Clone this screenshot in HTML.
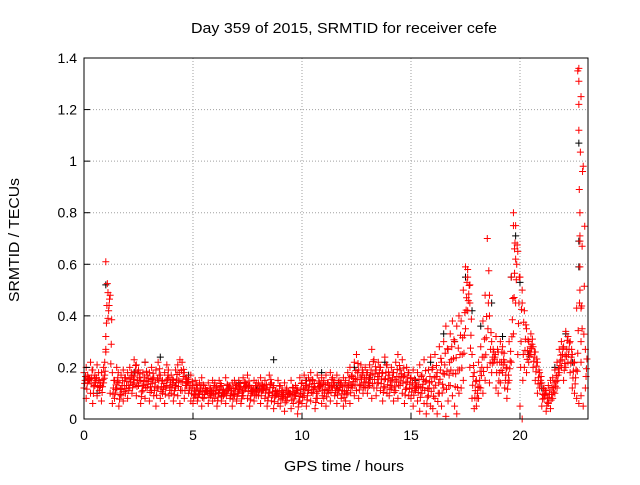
<!DOCTYPE html>
<html><head><meta charset="utf-8"><style>
html,body{margin:0;padding:0;background:#fff;}
svg text{font-family:"Liberation Sans",sans-serif;font-size:14px;fill:#000;}
svg text.big{font-size:15px;}
</style></head><body>
<svg id="chart" width="640" height="480" viewBox="0 0 640 480" xmlns="http://www.w3.org/2000/svg">
<rect width="640" height="480" fill="#fff"/>
<g id="grid"></g>
<g id="marks"></g>
<rect x="84" y="58" width="504" height="361" fill="none" stroke="#000" stroke-width="1"/>
<g id="ticks"></g>
<text class="big" x="191" y="33" textLength="306" lengthAdjust="spacingAndGlyphs">Day 359 of 2015, SRMTID for receiver cefe</text>
<text class="big" x="284" y="471" textLength="120" lengthAdjust="spacingAndGlyphs">GPS time / hours</text>
<text class="big" x="0" y="0" textLength="124" lengthAdjust="spacingAndGlyphs" transform="translate(19 302) rotate(-90)">SRMTID / TECUs</text>
</svg>
<script>
const xTicks=[0,5,10,15,20];
const yTicks=[0,0.2,0.4,0.6,0.8,1,1.2,1.4];
const yTickLabels=["0","0.2","0.4","0.6","0.8","1","1.2","1.4"];
const hours=[0.0,0.1,0.2,0.3,0.4,0.5,0.6,0.7,0.8,0.9,1.0,1.1,1.2,1.3,1.4,1.5,1.6,1.7,1.8,1.9,2.0,2.1,2.2,2.3,2.4,2.5,2.6,2.7,2.8,2.9,3.0,3.1,3.2,3.3,3.4,3.5,3.6,3.7,3.8,3.9,4.0,4.1,4.2,4.3,4.4,4.5,4.6,4.7,4.8,4.9,5.0,5.1,5.2,5.3,5.4,5.5,5.6,5.7,5.8,5.9,6.0,6.1,6.2,6.3,6.4,6.5,6.6,6.7,6.8,6.9,7.0,7.1,7.2,7.3,7.4,7.5,7.6,7.7,7.8,7.9,8.0,8.1,8.2,8.3,8.4,8.5,8.6,8.7,8.8,8.9,9.0,9.1,9.2,9.3,9.4,9.5,9.6,9.7,9.8,9.9,10.0,10.1,10.2,10.3,10.4,10.5,10.6,10.7,10.8,10.9,11.0,11.1,11.2,11.3,11.4,11.5,11.6,11.7,11.8,11.9,12.0,12.1,12.2,12.3,12.4,12.5,12.6,12.7,12.8,12.9,13.0,13.1,13.2,13.3,13.4,13.5,13.6,13.7,13.8,13.9,14.0,14.1,14.2,14.3,14.4,14.5,14.6,14.7,14.8,14.9,15.0,15.1,15.2,15.3,15.4,15.5,15.6,15.7,15.8,15.9,16.0,16.1,16.2,16.3,16.4,16.5,16.6,16.7,16.8,16.9,17.0,17.1,17.2,17.3,17.4,17.5,17.6,17.7,17.8,17.9,18.0,18.1,18.2,18.3,18.4,18.5,18.6,18.7,18.8,18.9,19.0,19.1,19.2,19.3,19.4,19.5,19.6,19.7,19.8,19.9,20.0,20.1,20.2,20.3,20.4,20.5,20.6,20.7,20.8,20.9,21.0,21.1,21.2,21.3,21.4,21.5,21.6,21.7,21.8,21.9,22.0,22.1,22.2,22.3,22.4,22.5,22.6,22.7,22.8,22.9,23.0];
const redLow=[.12,.08,.15,.10,.06,.13,.09,.11,.07,.14,
.27,.39,.10,.06,.08,.12,.05,.09,.07,.10,
.08,.12,.10,.14,.09,.13,.06,.11,.08,.12,
.07,.11,.09,.05,.12,.08,.10,.06,.13,.09,
.10,.07,.12,.09,.06,.11,.08,.13,.10,.07,
.06,.09,.07,.10,.05,.08,.11,.06,.09,.07,
.08,.05,.10,.07,.09,.06,.11,.08,.05,.09,
.07,.10,.06,.09,.12,.08,.05,.10,.07,.09,
.09,.06,.11,.08,.05,.10,.07,.04,.09,.06,
.05,.08,.03,.07,.10,.04,.06,.09,.02,.07,
.06,.09,.05,.11,.07,.10,.04,.08,.12,.06,
.08,.05,.10,.07,.12,.09,.06,.11,.08,.05,
.07,.10,.06,.12,.09,.11,.08,.13,.10,.12,
.10,.13,.08,.12,.09,.14,.11,.07,.12,.10,
.09,.12,.07,.11,.08,.13,.10,.06,.12,.09,
.08,.05,.11,.07,.03,.10,.06,.02,.09,.05,
.04,.08,.02,.10,.05,.12,.01,.07,.13,.09,
.05,.02,.10,.12,.15,.35,.42,.20,.08,.04,
.05,.08,.12,.10,.15,.20,.14,.18,.22,.12,
.10,.14,.18,.12,.08,.15,.22,.33,.45,.25,
.05,.00,.20,.18,.22,.25,.20,.15,.10,.12,
.05,.08,.03,.06,.04,.08,.10,.12,.18,.20,
.15,.20,.22,.18,.12,.10,.08,.06,.09,.05,
.12];
const redHigh=[.18,.20,.16,.22,.19,.17,.21,.15,.18,.20,
.61,.49,.48,.18,.15,.20,.14,.17,.19,.16,
.18,.20,.17,.23,.21,.19,.15,.18,.22,.17,
.18,.20,.16,.19,.22,.17,.15,.18,.21,.16,
.17,.15,.19,.21,.23,.22,.18,.16,.14,.17,
.13,.15,.12,.14,.16,.13,.11,.14,.12,.15,
.14,.12,.15,.13,.11,.16,.13,.12,.14,.15,
.13,.15,.12,.16,.14,.17,.13,.12,.15,.14,
.14,.16,.13,.15,.12,.17,.14,.13,.11,.15,
.13,.11,.14,.12,.10,.15,.12,.13,.11,.16,
.14,.17,.13,.16,.18,.15,.12,.17,.14,.16,
.15,.17,.14,.18,.16,.13,.17,.15,.14,.16,
.15,.18,.20,.17,.22,.25,.19,.21,.18,.20,
.18,.21,.27,.23,.19,.22,.20,.18,.24,.21,
.17,.20,.18,.22,.25,.19,.23,.17,.20,.18,
.16,.19,.14,.18,.21,.17,.23,.15,.19,.24,
.20,.25,.18,.28,.22,.30,.36,.27,.33,.38,
.30,.36,.40,.38,.50,.59,.55,.45,.25,.18,
.15,.22,.28,.38,.48,.70,.40,.30,.26,.32,
.26,.30,.28,.22,.20,.30,.55,.80,.75,.65,
.55,.50,.42,.35,.30,.33,.28,.26,.22,.18,
.14,.12,.10,.13,.15,.16,.19,.22,.27,.30,
.28,.34,.32,.30,.25,.22,.43,1.36,1.25,.98,
.27];
const redSpikeHours=[1.0,1.0,0.95,17.6,17.7,18.6,19.7,19.75,19.8,20.1,22.65,22.7,22.7,22.7,22.72,22.75,22.75,22.75,22.75,22.8,22.8,22.8,22.85];
const redSpikeValues=[.32,.26,.22,.58,.52,.48,.75,.66,.62,.45,1.35,1.31,1.22,1.12,.89,.80,.69,.59,.50,.43,.30,.22,.35];
const blackHours=[0.2,0.6,1.0,1.5,2.3,2.8,3.5,4.2,4.8,5.6,6.3,7.1,7.9,8.7,9.4,10.2,10.9,11.6,12.4,13.1,13.8,14.5,15.2,15.9,16.5,17.0,17.5,17.8,18.2,18.7,19.2,19.6,19.8,20.0,20.4,21.0,21.6,22.1,22.4,22.7,22.7,22.7];
const blackValues=[.15,.10,.52,.12,.18,.22,.24,.13,.17,.11,.09,.14,.12,.23,.10,.15,.18,.13,.20,.16,.22,.19,.15,.22,.33,.30,.55,.42,.36,.45,.32,.55,.71,.53,.25,.12,.20,.33,.22,1.07,.69,.59];

const X0=84,X1=588,Y0=419,Y1=58,XMAX=23.12,YMAX=1.4;
const xs=v=>X0+(v/XMAX)*(X1-X0);
const ys=v=>Y0-(v/YMAX)*(Y0-Y1);
const NS="http://www.w3.org/2000/svg";
function mk(tag,attrs,parent){const e=document.createElementNS(NS,tag);for(const k in attrs)e.setAttribute(k,attrs[k]);parent.appendChild(e);return e;}
const grid=document.getElementById('grid'),ticks=document.getElementById('ticks'),marks=document.getElementById('marks');
xTicks.forEach(t=>{const x=xs(t);
 if(t>0){const g=mk('line',{x1:x,x2:x,y1:Y0,y2:Y1,stroke:'#a0a0a0','stroke-dasharray':'1,2'},grid);
 
 }
 const tk=mk('line',{x1:x,x2:x,y1:Y0,y2:Y0-6,stroke:'#000'},ticks);
 
 
 const tl=mk('text',{x:x,y:Y0+21,'text-anchor':'middle'},ticks);tl.textContent=String(t);
 
 
});
yTicks.forEach((t,i)=>{const y=ys(t);
 if(t>0&&t<YMAX){const g=mk('line',{x1:X0,x2:X1,y1:y,y2:y,stroke:'#a0a0a0','stroke-dasharray':'1,2'},grid);
 
 }
 const tk=mk('line',{x1:X0,x2:X0+6,y1:y,y2:y,stroke:'#000'},ticks);
 
 
 const tl=mk('text',{x:X0-7,y:y+5,'text-anchor':'end'},ticks);tl.textContent=yTickLabels[i];
 
 
});
function plus(h,v,color,name){const x=xs(h),y=ys(v);
 const p=mk('path',{d:`M${x-3.5},${y}H${x+3.5}M${x},${y-3.5}V${y+3.5}`,stroke:color,'stroke-width':1,fill:'none'},marks);
 
 
}
blackHours.forEach((h,i)=>plus(h,blackValues[i],'#000','black-point'));
hours.forEach((h,i)=>{const lo=redLow[i],hi=redHigh[i];
 plus(h,lo,'#f00','red-point');
 plus(h+0.03,lo+(hi-lo)*0.3,'#f00','red-point');
 plus(h+0.05,(lo+hi)/2,'#f00','red-point');
 plus(h+0.07,lo+(hi-lo)*0.75,'#f00','red-point');
 plus(h,hi,'#f00','red-point');});
redSpikeHours.forEach((h,i)=>plus(h,redSpikeValues[i],'#f00','red-point'));
</script>
</body></html>
